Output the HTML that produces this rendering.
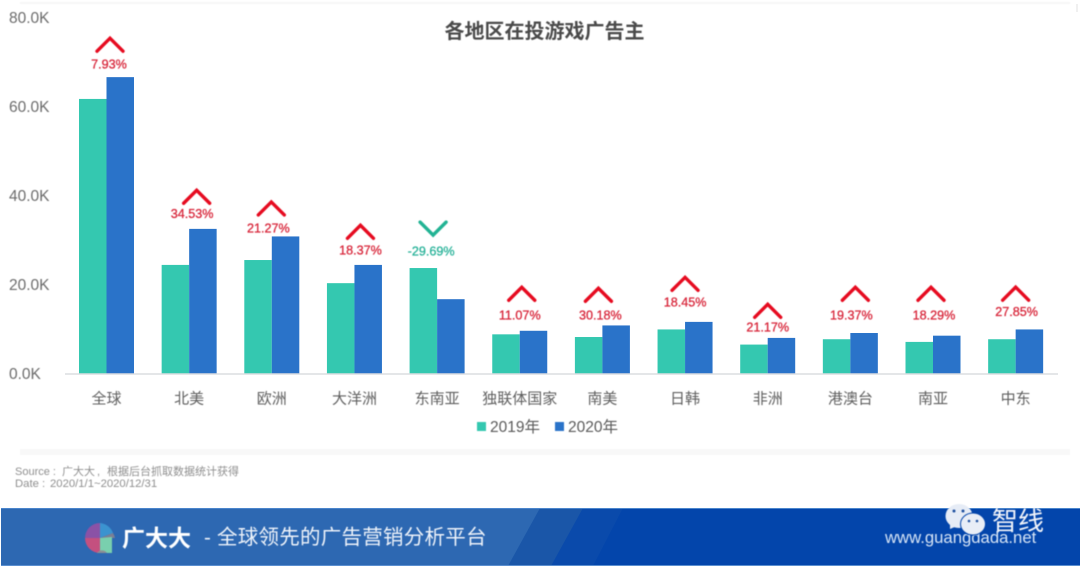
<!DOCTYPE html>
<html lang="zh">
<head>
<meta charset="utf-8">
<title>各地区在投游戏广告主</title>
<style>
html,body{margin:0;padding:0;background:#fff;width:1080px;height:568px;overflow:hidden}
svg{display:block}
text{font-family:"Liberation Sans","Noto Sans CJK SC",sans-serif}
.soft{filter:blur(.5px)}
</style>
</head>
<body>
<svg id="stage" xmlns="http://www.w3.org/2000/svg" width="1080" height="568" viewBox="0 0 1080 568">
  <rect width="1080" height="568" fill="#fff"/>
  <rect x="20" y="2" width="1050" height="2" fill="#f6f6f6" class="soft"/>
  <rect x="20" y="449" width="1050" height="6" fill="#f8f8f8" class="soft"/>
  <rect x="1076" y="4" width="2" height="8" fill="#f0f0f0"/>

  <text class="soft" x="544.5" y="38" text-anchor="middle" font-size="20" font-weight="700" fill="#4a4a4a">各地区在投游戏广告主</text>

  <g id="y-axis"></g>
  <g id="bars"></g>
  <line x1="65" x2="1058" y1="374" y2="374" stroke="#dcdde0" stroke-width="1.5"/>
  <g id="x-axis"></g>
  <g id="changes"></g>

  <g class="soft">
    <g>
      <rect x="477" y="422" width="9" height="9" fill="#34c8b0"/>
      <text x="490" y="432" font-size="15.5" fill="#5a5a5a">2019年</text>
    </g>
    <g>
      <rect x="555" y="422" width="9" height="9" fill="#2a73c9"/>
      <text x="568" y="432" font-size="15.5" fill="#5a5a5a">2020年</text>
    </g>
  </g>

  <g class="soft">
    <text y="475" font-size="11" fill="#8f8f8f"><tspan x="15">Source :</tspan><tspan x="62">广大大</tspan><tspan x="97">,</tspan><tspan x="107">根据后台抓取数据统计获得</tspan></text>
    <text y="487" font-size="11.3" fill="#8f8f8f"><tspan x="15">Date :</tspan><tspan x="50">2020/1/1~2020/12/31</tspan></text>
  </g>

  <g>
    <rect x="1" y="508" width="1079" height="58" fill="#0345ab"/>
    <polygon points="623,508 593,566 1,566 1,508" fill="#0a4aab"/>
    <polygon points="583,508 551,566 1,566 1,508" fill="#1a56a8"/>
    <polygon points="540,508 508,566 1,566 1,508" fill="#2d68b2"/>
    <rect x="1" y="508" width="1079" height="1" fill="#4a85cc"/>
    <rect x="1" y="565" width="1079" height="1" fill="#5b8fd0"/>

    <g class="soft">
      <path d="M100 523 A15 15 0 0 0 85 538 L100 538 Z" fill="#8a52a6"/>
      <path d="M100 523 A15 15 0 0 1 113 533 L100 538 Z" fill="#3b93d0"/>
      <path d="M113 533 A15 15 0 0 1 115 538 L100 538 Z" fill="#7b7f95"/>
      <path d="M85 538 A15 15 0 0 0 100 553 L100 538 Z" fill="#c4507f"/>
      <path d="M100 538 L112 537 L112 553 L100 553 Z" fill="#79cfae"/>
      <path d="M97 553 A6 6 0 0 1 107 553 Z" fill="#8d8f94"/>
    </g>
    <text class="soft" x="122" y="546" font-size="23" font-weight="700" fill="#fff">广大大</text>
    <text class="soft" x="204" y="544" font-size="20.5" fill="#eef3fa" letter-spacing=".25">- 全球领先的广告营销分析平台</text>
    <text class="soft" x="885" y="543" font-size="16.7" fill="#d7e5f6">www.guangdada.net</text>
  </g>

  <g class="soft">
    <ellipse cx="959" cy="516" rx="13.5" ry="12" fill="#e6ecf6"/>
    <polygon points="950,524 950,529 957,526" fill="#e6ecf6"/>
    <ellipse cx="973" cy="524" rx="12.5" ry="11" fill="#e9eef7" stroke="#0345ab" stroke-width="1"/>
    <circle cx="954" cy="511" r="1.5" fill="#1d4f9f"/>
    <circle cx="963" cy="511" r="1.5" fill="#1d4f9f"/>
    <circle cx="969" cy="521" r="1.3" fill="#1d4f9f"/>
    <circle cx="977" cy="521" r="1.3" fill="#1d4f9f"/>
    <text x="992" y="530" font-size="26" fill="#f1f4fa">智线</text>
  </g>
</svg>

<script>
const categories = ['全球','北美','欧洲','大洋洲','东南亚','独联体国家','南美','日韩','非洲','港澳台','南亚','中东'];
const series2019 = [61.7,24.4,25.5,20.3,23.7,8.8,8.2,9.9,6.5,7.7,7.1,7.7];
const series2020 = [66.6,32.5,30.8,24.4,16.7,9.6,10.8,11.6,8.0,9.1,8.5,9.9];
const changeLabels = ['7.93%','34.53%','21.27%','18.37%','-29.69%','11.07%','30.18%','18.45%','21.17%','19.37%','18.29%','27.85%'];
const annotationLevels = [69.5,35.9,32.7,27.8,27.5,13.2,13.2,16.1,10.5,13.2,13.2,13.9];
const yTicks = [0,20,40,60,80];
const yTickLabels = ['0.0K','20.0K','40.0K','60.0K','80.0K'];

const NS = 'http://www.w3.org/2000/svg';
const y = v => 373.5 - v * 4.45;
const xCenter = i => 106.5 + i * 82.65;
const barW = 27.5;

function make(tag, attrs, parent, content) {
  const el = document.createElementNS(NS, tag);
  for (const k in attrs) el.setAttribute(k, attrs[k]);
  if (content !== undefined) el.textContent = content;
  parent.appendChild(el);
  return el;
}

const yG = document.getElementById('y-axis');
const barsG = document.getElementById('bars');
const xG = document.getElementById('x-axis');
const chG = document.getElementById('changes');

yTicks.forEach((t, i) => {
  const el = make('text', {x: 9, y: y(t) + 5.5, 'font-size': 15.5, fill: '#6b6b6b', class: 'soft'}, yG, yTickLabels[i]);
  
  
});

function drawAll() {
  /* The original annotations were hand-placed around each group; these are
     layout nudges only (label dx, chevron dx, chevron rise above the label). */
  const placement = {
    '全球':[2.5,3.5,26], '北美':[3,7.5,23.5], '欧洲':[-3.5,-0.5,26], '大洋洲':[6,6,24.5],
    '东南亚':[-6,-4,0], '独联体国家':[0,2,27.5], '南美':[-2,-4,26.5], '日韩':[0,0,24.5],
    '非洲':[0,0,22.5], '港澳台':[1,5,27.5], '南亚':[1,-2,27.5], '中东':[1,0,24.5]
  };
  categories.forEach((c, i) => {
    const cx = xCenter(i);
    const a = make('rect', {x: cx - barW, y: y(series2019[i]), width: barW, height: y(0) - y(series2019[i]), fill: '#34c8b0'}, barsG);
    
    
    const b = make('rect', {x: cx, y: y(series2020[i]), width: barW, height: y(0) - y(series2020[i]), fill: '#2a73c9'}, barsG);
    
    

    const lab = make('text', {x: cx, y: 403.5, 'text-anchor': 'middle', 'font-size': 15, fill: '#5f5f5f', class: 'soft'}, xG, c);
    
    

    const down = changeLabels[i].charAt(0) === '-';
    const ly = y(annotationLevels[i]);
    const p = placement[c];
    const t = make('text', {x: cx + p[0], y: ly + 4.5, 'text-anchor': 'middle', 'font-size': 12.6, fill: down ? '#2bb39a' : '#d8283c', stroke: down ? '#2bb39a' : '#d8283c', 'stroke-width': 0.3, class: 'soft'}, chG, changeLabels[i]);
    
    

    const hx = cx + p[1];
    let pts;
    if (down) {
      const by = ly - 16;
      pts = [hx - 13, by - 13, hx, by, hx + 13, by - 13];
    } else {
      const ay = ly - p[2];
      pts = [hx - 13, ay + 13, hx, ay, hx + 13, ay + 13];
    }
    const chev = make('polyline', {points: pts.join(' '), fill: 'none', stroke: down ? '#22b394' : '#e60b20', 'stroke-width': 3.4, 'stroke-linecap': 'round', class: 'soft'}, chG);
    
    
  });
}
drawAll();
</script>
</body>
</html>
